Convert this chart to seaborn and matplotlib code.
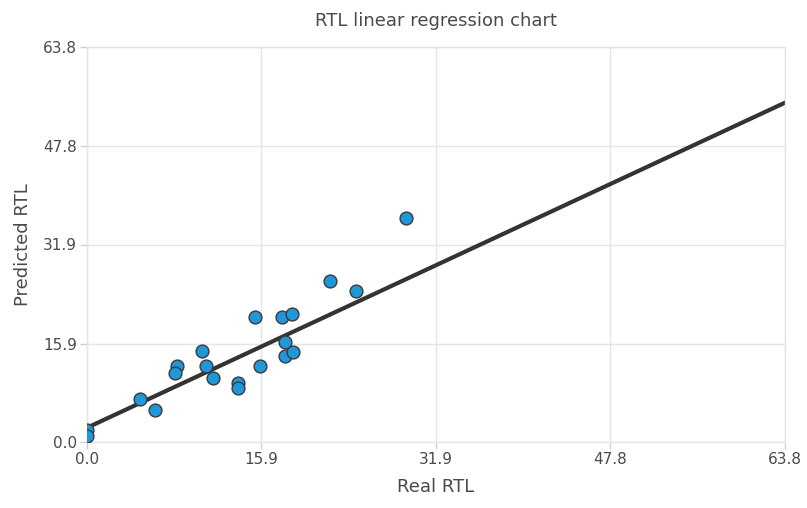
import numpy as np
import pandas as pd
import matplotlib
matplotlib.use("Agg")
import matplotlib.pyplot as plt
import seaborn as sns

# Observed vs. predicted RTL values
real_rtl = [29.2, 22.2, 24.6, 15.4, 17.8, 18.7, 18.1, 18.1, 18.8, 15.8,
            10.5, 10.9, 11.5, 8.2, 8.0, 13.8, 13.8, 4.8, 6.2, 0.0, 0.0]
predicted_rtl = [36.1, 26.0, 24.4, 20.2, 20.2, 20.6, 16.2, 13.9, 14.6, 12.3,
                 14.7, 12.3, 10.4, 12.3, 11.1, 9.5, 8.8, 6.9, 5.1, 1.9, 0.9]

# Fitted regression line
fit_intercept = 2.3
fit_slope = 0.823

tick_values = [0.0, 15.9, 31.9, 47.8, 63.8]
tick_labels = ["0.0", "15.9", "31.9", "47.8", "63.8"]

sns.set_theme(style="white")
plt.rcParams["font.family"] = ["DejaVu Sans"]

text_color = "#4a4a4a"
grid_color = "#e5e5e5"

fig = plt.figure(figsize=(8.07, 5.08), dpi=100)
ax = fig.add_axes([87 / 807, 1 - 442 / 508, 698 / 807, 395 / 508])

df = pd.DataFrame({"Real RTL": real_rtl, "Predicted RTL": predicted_rtl})

line_x = np.array([tick_values[0], tick_values[-1]])
line_df = pd.DataFrame({"x": line_x, "y": fit_intercept + fit_slope * line_x})
sns.lineplot(data=line_df, x="x", y="y", ax=ax, color="#333333",
             linewidth=3.0, zorder=2)

sns.scatterplot(data=df, x="Real RTL", y="Predicted RTL", ax=ax,
                color="#1f97d8", edgecolor="#3a3a3a", linewidth=1.0,
                s=85, zorder=3, clip_on=True)

ax.set_xlim(tick_values[0], tick_values[-1])
ax.set_ylim(tick_values[0], tick_values[-1])
ax.set_xticks(tick_values)
ax.set_xticklabels(tick_labels)
ax.set_yticks(tick_values)
ax.set_yticklabels(tick_labels)

ax.grid(True, color=grid_color, linewidth=1.0)
ax.set_axisbelow(True)
for spine in ax.spines.values():
    spine.set_color(grid_color)
    spine.set_linewidth(1.0)

ax.tick_params(axis="both", which="both", length=5, width=1.0,
               color="#d0d0d0", labelsize=11, labelcolor=text_color,
               pad=2, direction="out", bottom=True, left=True)

ax.set_xlabel("Real RTL", fontsize=13, color=text_color, labelpad=8)
ax.set_ylabel("Predicted RTL", fontsize=13, color=text_color, labelpad=8)
ax.set_title("RTL linear regression chart", fontsize=13, color=text_color,
             pad=15)

fig.savefig("out.png", dpi=100)
